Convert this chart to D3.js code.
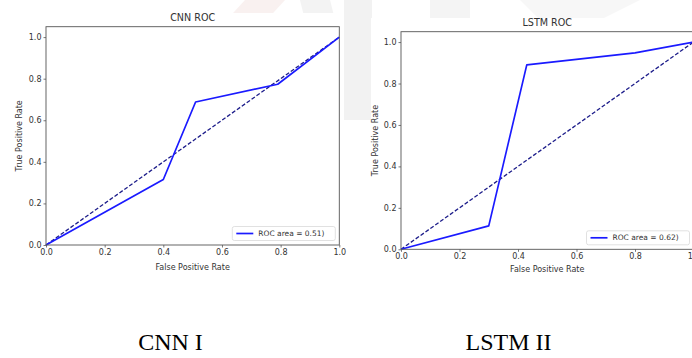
<!DOCTYPE html>
<html>
<head>
<meta charset="utf-8">
<script src="https://cdn.jsdelivr.net/npm/d3@7"></script>
<style>
  body { margin: 0; background: #fff; }
  svg text { font-family: "DejaVu Sans", sans-serif; fill: #333; }
</style>
</head>
<body>
<div id="chart"></div>
<script>
// ROC points
var cnnFpr = [0, 0.40, 0.51, 0.79, 1.0];
var cnnTpr = [0, 0.315, 0.688, 0.773, 1.0];
var lstmFpr = [0, 0.30, 0.43, 0.80, 1.0];
var lstmTpr = [0, 0.113, 0.89, 0.948, 1.0];

// chance diagonal
var diagFpr = [0, 1];
var diagTpr = [0, 1];

var xTicks = [0, 0.2, 0.4, 0.6, 0.8, 1.0];
var yTicks = [0, 0.2, 0.4, 0.6, 0.8, 1.0];

var titles = ["CNN ROC", "LSTM ROC"];
var legendLabels = ["ROC area = 0.51)", "ROC area = 0.62)"];
var captions = ["CNN I", "LSTM II"];

var width = 692;
var height = 358;

var svg = d3.select("#chart")
    .append("svg")
    .attr("width", width)
    .attr("height", height);

svg.append("rect").attr("width", width).attr("height", height).attr("fill", "#fff");

// faint watermark behind the two figure images
var wm = svg.append("g").attr("opacity", 0.25);
wm.append("path").attr("d", "M190,60 L245,0 L285,0 L230,60 Z").attr("fill", "#e9c9c4");
wm.append("path").attr("d", "M300,0 L330,0 L345,60 L315,60 Z").attr("fill", "#d0d0d0");
wm.append("path").attr("d", "M344,0 L372,0 L372,120 L344,120 Z").attr("fill", "#cfcfcf");
wm.append("path").attr("d", "M430,0 L470,0 L470,20 L430,20 Z").attr("fill", "#d6d6d6");
wm.append("path").attr("d", "M520,0 L640,0 L600,20 L540,20 Z").attr("fill", "#e0e0e0");

// Func to draw one ROC panel
function drawRoc(p) {
    var g = svg.append("g");

    // white figure background
    g.append("rect")
        .attr("x", p.figX).attr("y", p.figY)
        .attr("width", p.figW).attr("height", p.figH)
        .attr("fill", "#fff");

    var x = d3.scaleLinear().domain([0, 1]).range([p.left, p.right]);
    var y = d3.scaleLinear().domain([0, 1.05]).range([p.bottom, p.top]);

    var line = d3.line().x(d => x(d[0])).y(d => y(d[1]));

    // diagonal
    g.append("path")
        .attr("d", line(d3.zip(diagFpr, diagTpr)))
        .attr("fill", "none")
        .attr("stroke", "#1c1c8a")
        .attr("stroke-width", 1.3)
        .attr("stroke-dasharray", "4,2");

    // roc curve
    g.append("path")
        .attr("d", line(d3.zip(p.fpr, p.tpr)))
        .attr("fill", "none")
        .attr("stroke", "#1a1aff")
        .attr("stroke-width", 1.7)
        .attr("stroke-linejoin", "round");

    // frame
    g.append("rect")
        .attr("x", p.left).attr("y", p.top)
        .attr("width", p.right - p.left).attr("height", p.bottom - p.top)
        .attr("fill", "none")
        .attr("stroke", "#555")
        .attr("stroke-width", 0.9);

    var xAxis = d3.axisBottom(x).tickValues(xTicks).tickFormat(d3.format(".1f")).tickSize(2.5).tickPadding(2);
    var yAxis = d3.axisLeft(y).tickValues(yTicks).tickFormat(d3.format(".1f")).tickSize(2.5).tickPadding(2);

    var gx = g.append("g").attr("transform", `translate(0,${p.bottom})`).call(xAxis);
    var gy = g.append("g").attr("transform", `translate(${p.left},0)`).call(yAxis);
    [gx, gy].forEach(a => {
        a.select(".domain").remove();
        a.selectAll("line").attr("stroke", "#555").attr("stroke-width", 0.8);
        a.selectAll("text").style("font-size", "8px").attr("fill", "#333");
    });

    var cx = (p.left + p.right) / 2;

    g.append("text")
        .attr("x", cx).attr("y", p.titleY)
        .attr("text-anchor", "middle")
        .attr("dy", "0.35em")
        .style("font-size", "9.6px")
        .text(p.title);

    g.append("text")
        .attr("x", cx).attr("y", p.xLabelY)
        .attr("text-anchor", "middle")
        .attr("dy", "0.35em")
        .style("font-size", "8px")
        .text("False Positive Rate");

    g.append("text")
        .attr("transform", `translate(${p.yLabelX},${(p.top + p.bottom) / 2}) rotate(-90)`)
        .attr("text-anchor", "middle")
        .attr("dy", "0.35em")
        .style("font-size", "8px")
        .text("True Positive Rate");

    // legend
    var lw = 103, lh = 14;
    var lx = p.right - 4 - lw, ly = p.bottom - 4.5 - lh;
    g.append("rect")
        .attr("x", lx).attr("y", ly).attr("width", lw).attr("height", lh)
        .attr("rx", 2)
        .attr("fill", "#fff").attr("fill-opacity", 0.85)
        .attr("stroke", "#d4d4d4").attr("stroke-width", 0.7);
    g.append("line")
        .attr("x1", lx + 4).attr("x2", lx + 21)
        .attr("y1", ly + lh / 2).attr("y2", ly + lh / 2)
        .attr("stroke", "#1a1aff").attr("stroke-width", 1.7);
    g.append("text")
        .attr("x", lx + 26).attr("y", ly + lh / 2)
        .attr("dy", "0.35em")
        .style("font-size", "7.5px")
        .text(p.legend);

    // caption under the figure
    svg.append("text")
        .attr("x", p.capX).attr("y", 350)
        .attr("text-anchor", "middle")
        .style("font-family", "'Liberation Serif', 'Times New Roman', serif")
        .style("font-size", "24px")
        .style("fill", "#000")
        .text(p.caption);
}

drawRoc({
    figX: 0, figY: 13, figW: 344, figH: 267,
    left: 46, right: 339.3, top: 26.7, bottom: 245,
    titleY: 17.3, xLabelY: 266.7, yLabelX: 19.3,
    fpr: cnnFpr, tpr: cnnTpr,
    title: titles[0], legend: legendLabels[0],
    caption: captions[0], capX: 170.5
});

drawRoc({
    figX: 371, figY: 18, figW: 330, figH: 262,
    left: 401, right: 693.5, top: 31.7, bottom: 249.3,
    titleY: 22.7, xLabelY: 269, yLabelX: 375,
    fpr: lstmFpr, tpr: lstmTpr,
    title: titles[1], legend: legendLabels[1],
    caption: captions[1], capX: 508.5
});
</script>
</body>
</html>
